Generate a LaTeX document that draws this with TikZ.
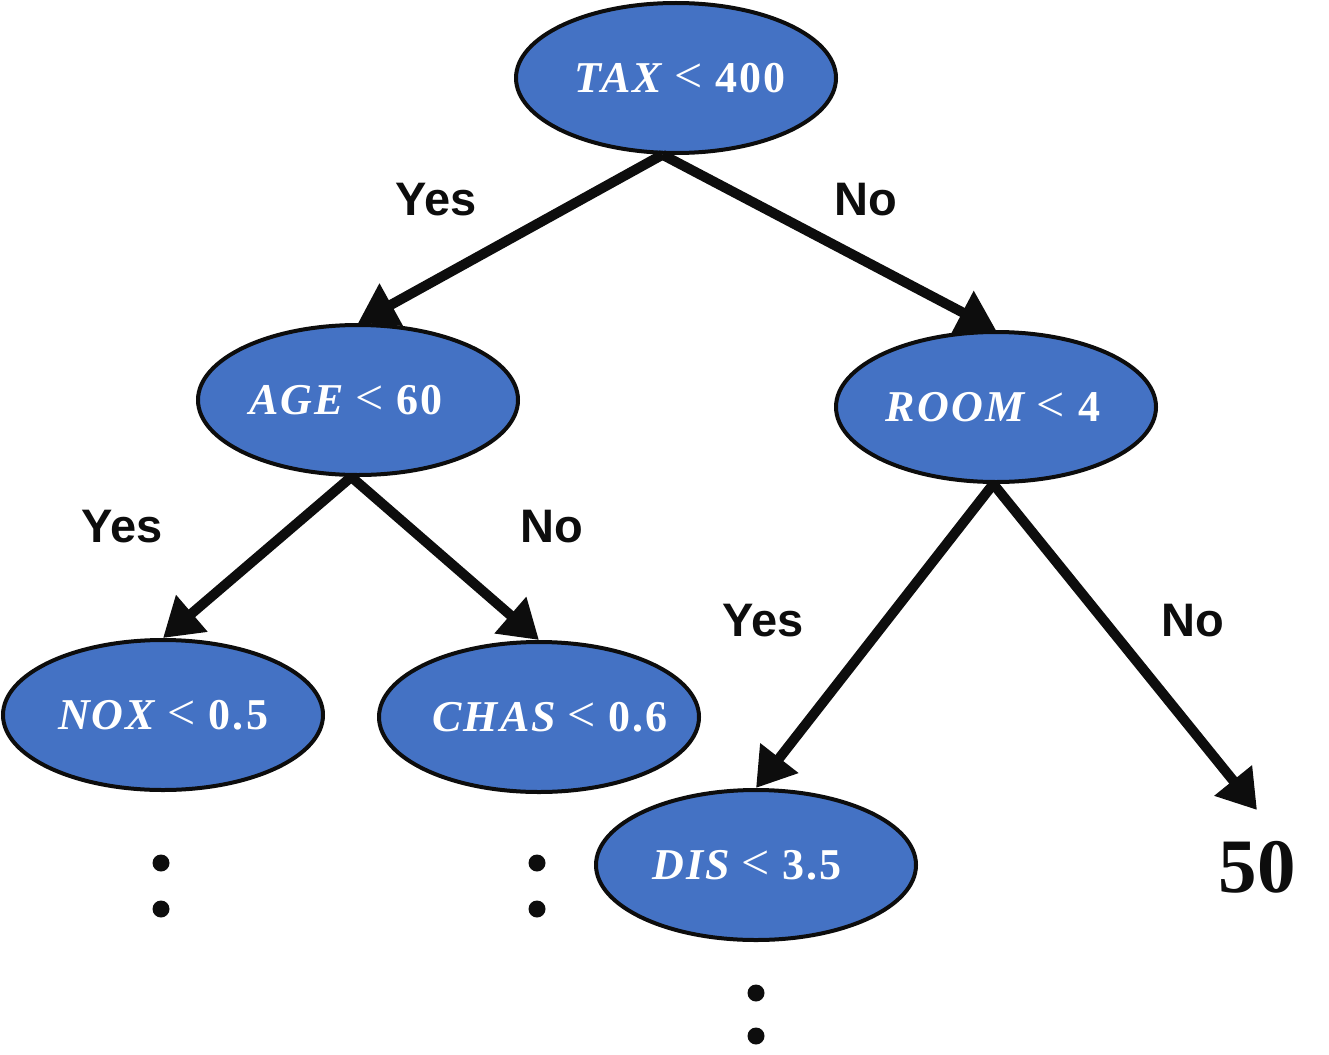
\documentclass[tikz,border=0pt]{standalone}
\usepackage{fontspec}
\setmainfont{Liberation Serif}
\newfontfamily\labelfont{Liberation Sans}
\newfontfamily\splitfont[LetterSpace=5]{Liberation Serif}
\newfontfamily\relfont{Liberation Serif}
\usetikzlibrary{arrows.meta,shapes.geometric}
\definecolor{nodeblue}{HTML}{4472C4}
\definecolor{ink}{HTML}{0D0D0D}
\newcommand{\lessthan}{\kern9pt{\relfont\mdseries\upshape\fontsize{50}{48}\selectfont <}\kern13pt}
\tikzset{
  split/.style={ellipse, draw=ink, line width=4pt, fill=nodeblue, minimum width=320pt, minimum height=150pt, inner ysep=0pt, inner xsep=-40pt, text=white, font=\fontsize{44}{48}\selectfont\splitfont\bfseries},
  branch/.style={draw=ink, line width=10pt, -{Triangle[length=38pt,width=46pt]}},
  answer/.style={font=\fontsize{47}{50}\selectfont\labelfont\bfseries, text=ink},
  cont/.style={circle, fill=ink, minimum size=17pt, inner sep=0pt},
}
\begin{document}
\begin{tikzpicture}[x=1pt,y=-1pt]
\useasboundingbox (0,0) rectangle (1329,1054);
\node[split] (tax) at (676,78) {\kern8pt\textit{TAX}\lessthan 400};
\node[split] (age) at (358,400) {\textit{AGE}\lessthan 60\kern24pt};
\node[split] (room) at (996,407) {\textit{ROOM}\lessthan 4\kern6pt};
\node[split] (nox) at (163,715) {\textit{NOX}\lessthan 0.5};
\node[split] (chas) at (539,717) {\kern22pt\textit{CHAS}\lessthan 0.6};
\node[split] (dis) at (756,865) {\textit{DIS}\lessthan 3.5\kern18pt};
\node[font=\fontsize{77}{80}\selectfont\bfseries, text=ink] (leaf) at (1257,867) {50};
\coordinate (leaftop) at (1257,810);
\draw[branch] (tax.260) -- (age.north);
\draw[branch] (tax.260) -- (room.north);
\draw[branch] (age.265) -- (nox.north);
\draw[branch] (age.265) -- (chas.north);
\draw[branch] (room.268) -- (dis.north);
\draw[branch] (room.268) -- (leaftop);
\node[answer] (y1) at (436,200) {Yes};
\node[answer] (n1) at (866,200) {No};
\node[answer] (y2) at (122,527) {Yes};
\node[answer] (n2) at (552,527) {No};
\node[answer] (y3) at (763,621) {Yes};
\node[answer] (n3) at (1193,621) {No};
\node[cont] (d1) at (161,863) {};
\node[cont] (d2) at (161,909) {};
\node[cont] (d3) at (537,863) {};
\node[cont] (d4) at (537,909) {};
\node[cont] (d5) at (756,993) {};
\node[cont] (d6) at (756,1036) {};
\end{tikzpicture}
\end{document}
